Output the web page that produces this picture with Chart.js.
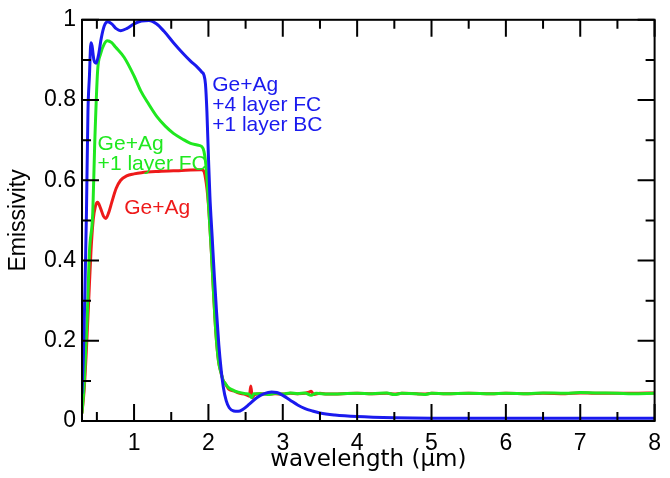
<!DOCTYPE html>
<html>
<head>
<meta charset="utf-8">
<script src="https://cdn.jsdelivr.net/npm/chart.js@4.4.1/dist/chart.umd.min.js"></script>
<style>
  html, body { margin: 0; padding: 0; background: #fff; }
  #wrap { width: 670px; height: 478px; }
</style>
</head>
<body>
<div id="wrap"><canvas id="c" width="670" height="478"></canvas></div>
<script>
// ---- data (wavelength in µm, emissivity) ----
const blueX = [0.30,0.32,0.34,0.36,0.38,0.40,0.42,0.435,0.46,0.49,0.52,0.56,0.60,0.645,0.70,0.76,0.82,0.90,1.00,1.10,1.20,1.30,1.40,1.53,1.65,1.76,1.85,1.91,1.94,1.96,1.98,2.00,2.02,2.05,2.08,2.11,2.14,2.17,2.20,2.24,2.28,2.34,2.40,2.47,2.55,2.65,2.75,2.85,2.92,3.00,3.10,3.20,3.30,3.40,3.50,3.70,4.00,4.50,5.00,6.00,7.00,8.00];
const blueY = [0.07,0.17,0.33,0.52,0.77,0.86,0.943,0.935,0.900,0.892,0.91,0.955,0.985,0.995,0.99,0.978,0.973,0.978,0.99,0.997,0.998,0.99,0.972,0.943,0.918,0.897,0.882,0.870,0.862,0.84,0.77,0.66,0.56,0.46,0.36,0.27,0.19,0.13,0.085,0.05,0.033,0.025,0.024,0.03,0.042,0.058,0.068,0.072,0.071,0.064,0.052,0.040,0.031,0.025,0.020,0.015,0.011,0.008,0.007,0.007,0.007,0.007];

const greenX = [0.30,0.33,0.37,0.40,0.445,0.47,0.51,0.55,0.60,0.64,0.70,0.75,0.868,1.00,1.09,1.20,1.31,1.42,1.53,1.65,1.76,1.85,1.91,1.94,1.97,2.00,2.04,2.07,2.10,2.135,2.17,2.20,2.22,2.27,2.34,2.40,2.50,2.55,2.58,2.61,2.70,2.80,2.90,3.00,3.10,3.20,3.30,3.38,3.45,3.60,3.80,4.00,4.20,4.40,4.50,4.60,4.80,4.90,5.00,5.20,5.50,5.80,6.00,6.30,6.50,6.80,7.00,7.20,7.50,7.70,8.00];
const greenY = [0.02,0.094,0.257,0.421,0.52,0.685,0.873,0.915,0.94,0.948,0.943,0.932,0.906,0.86,0.823,0.789,0.758,0.735,0.717,0.703,0.692,0.688,0.684,0.672,0.63,0.544,0.42,0.315,0.22,0.15,0.12,0.10,0.095,0.083,0.076,0.072,0.068,0.066,0.058,0.068,0.068,0.066,0.069,0.067,0.070,0.068,0.070,0.064,0.069,0.067,0.068,0.069,0.068,0.070,0.066,0.069,0.068,0.066,0.069,0.068,0.069,0.068,0.069,0.068,0.070,0.069,0.071,0.070,0.069,0.068,0.069];

const redX = [0.30,0.33,0.36,0.39,0.42,0.45,0.48,0.51,0.55,0.59,0.62,0.66,0.70,0.76,0.82,0.90,1.00,1.10,1.33,1.60,1.91,1.94,1.96,1.98,2.00,2.04,2.07,2.10,2.135,2.17,2.20,2.22,2.27,2.34,2.40,2.50,2.55,2.57,2.59,2.62,2.70,2.80,2.90,3.00,3.10,3.20,3.30,3.35,3.38,3.42,3.50,3.60,3.80,4.00,4.20,4.40,4.50,4.60,4.80,4.90,5.00,5.20,5.50,5.80,6.00,6.30,6.50,6.80,7.00,7.20,7.50,7.70,8.00];
const redY = [0.02,0.08,0.18,0.30,0.42,0.50,0.535,0.545,0.53,0.51,0.505,0.52,0.545,0.58,0.60,0.611,0.616,0.619,0.622,0.624,0.626,0.622,0.606,0.58,0.54,0.42,0.315,0.22,0.15,0.12,0.10,0.095,0.08,0.075,0.07,0.066,0.062,0.087,0.058,0.066,0.068,0.067,0.068,0.067,0.069,0.068,0.069,0.072,0.074,0.066,0.069,0.067,0.068,0.069,0.068,0.069,0.067,0.069,0.068,0.067,0.069,0.068,0.069,0.068,0.069,0.068,0.069,0.068,0.070,0.069,0.069,0.069,0.070];

const xTickValues = [1,2,3,4,5,6,7,8];
const xTickLabels = ['1','2','3','4','5','6','7','8'];
const xMinorTicks = [0.5,1.5,2.5,3.5,4.5,5.5,6.5,7.5];
const yTickValues = [0,0.2,0.4,0.6,0.8,1];
const yTickLabels = ['0','0.2','0.4','0.6','0.8','1'];
const yMinorTicks = [0.1,0.3,0.5,0.7,0.9];

const seriesNames = ['Ge+Ag +4 layer FC +1 layer BC','Ge+Ag +1 layer FC','Ge+Ag'];
const annotations = [
  { lines: ['Ge+Ag','+4 layer FC','+1 layer BC'], x: 2.05, y: 0.823, color: '#1a1aee' },
  { lines: ['Ge+Ag','+1 layer FC'], x: 0.51, y: 0.676, color: '#1fe81f' },
  { lines: ['Ge+Ag'], x: 0.867, y: 0.516, color: '#ee1a1a' }
];

const toPts = (xs, ys) => xs.map((x, i) => ({ x: x, y: ys[i] }));

const framePlugin = {
  id: 'frame',
  afterDatasetsDraw(chart) {
    const { ctx, chartArea: a, scales: { x, y } } = chart;
    ctx.save();
    ctx.strokeStyle = '#000';
    ctx.lineWidth = 2;
    ctx.strokeRect(a.left, a.top, a.right - a.left, a.bottom - a.top);
    const majorLen = 17, minorLen = 9;
    ctx.beginPath();
    const vt = (v, len) => {
      const px = x.getPixelForValue(v);
      ctx.moveTo(px, a.bottom); ctx.lineTo(px, a.bottom - len);
      ctx.moveTo(px, a.top); ctx.lineTo(px, a.top + len);
    };
    const ht = (v, len) => {
      const py = y.getPixelForValue(v);
      ctx.moveTo(a.left, py); ctx.lineTo(a.left + len, py);
      ctx.moveTo(a.right, py); ctx.lineTo(a.right - len, py);
    };
    xTickValues.forEach(v => vt(v, majorLen));
    xMinorTicks.forEach(v => vt(v, minorLen));
    yTickValues.forEach(v => ht(v, majorLen));
    yMinorTicks.forEach(v => ht(v, minorLen));
    ctx.stroke();

    // annotations
    ctx.font = '21px "Liberation Sans", Arial, sans-serif';
    ctx.textAlign = 'left';
    ctx.textBaseline = 'alphabetic';
    annotations.forEach(an => {
      const px = x.getPixelForValue(an.x);
      const py = y.getPixelForValue(an.y);
      ctx.fillStyle = an.color;
      an.lines.forEach((t, i) => ctx.fillText(t, px, py + i * 20));
    });
    ctx.restore();
  }
};

new Chart(document.getElementById('c'), {
  type: 'line',
  data: {
    datasets: [
      { label: seriesNames[0], data: toPts(blueX, blueY), borderColor: '#1a1aee', borderWidth: 3 },
      { label: seriesNames[1], data: toPts(greenX, greenY), borderColor: '#1fe81f', borderWidth: 3 },
      { label: seriesNames[2], data: toPts(redX, redY), borderColor: '#ee1a1a', borderWidth: 3 }
    ]
  },
  options: {
    responsive: false,
    devicePixelRatio: 1,
    animation: false,
    parsing: false,
    elements: {
      point: { radius: 0 },
      line: { cubicInterpolationMode: 'monotone', fill: false, borderCapStyle: 'round', borderJoinStyle: 'round' }
    },
    layout: { padding: { top: 15, right: 11, left: 0, bottom: 0 } },
    plugins: { legend: { display: false }, tooltip: { enabled: false } },
    scales: {
      x: {
        type: 'linear', min: 0.3, max: 8,
        grid: { display: false, drawTicks: false },
        border: { display: false },
        afterBuildTicks: s => { s.ticks = xTickValues.map(v => ({ value: v })); },
        afterFit: s => { s.height = 57; },
        ticks: {
          autoSkip: false, maxRotation: 0, padding: 9, color: '#000',
          font: { family: '"Liberation Sans", Arial, sans-serif', size: 23 },
          callback: (v, i) => xTickLabels[i]
        },
        title: {
          display: true, text: 'wavelength (µm)', color: '#000',
          font: { family: '"DejaVu Sans", sans-serif', size: 23, lineHeight: 1 },
          padding: { top: 0, bottom: 6 }
        }
      },
      y: {
        type: 'linear', min: 0, max: 1,
        grid: { display: false, drawTicks: false },
        border: { display: false },
        afterBuildTicks: s => { s.ticks = yTickValues.map(v => ({ value: v })); },
        afterFit: s => { s.width = 82; },
        ticks: {
          autoSkip: false, padding: 6, color: '#000',
          font: { family: '"Liberation Sans", Arial, sans-serif', size: 23 },
          callback: (v, i) => yTickLabels[i]
        },
        title: {
          display: true, text: 'Emissivity', color: '#000',
          font: { family: '"Liberation Sans", Arial, sans-serif', size: 23, lineHeight: 1 },
          padding: { top: 7, bottom: 0 }
        }
      }
    }
  },
  plugins: [framePlugin]
});
</script>
</body>
</html>
